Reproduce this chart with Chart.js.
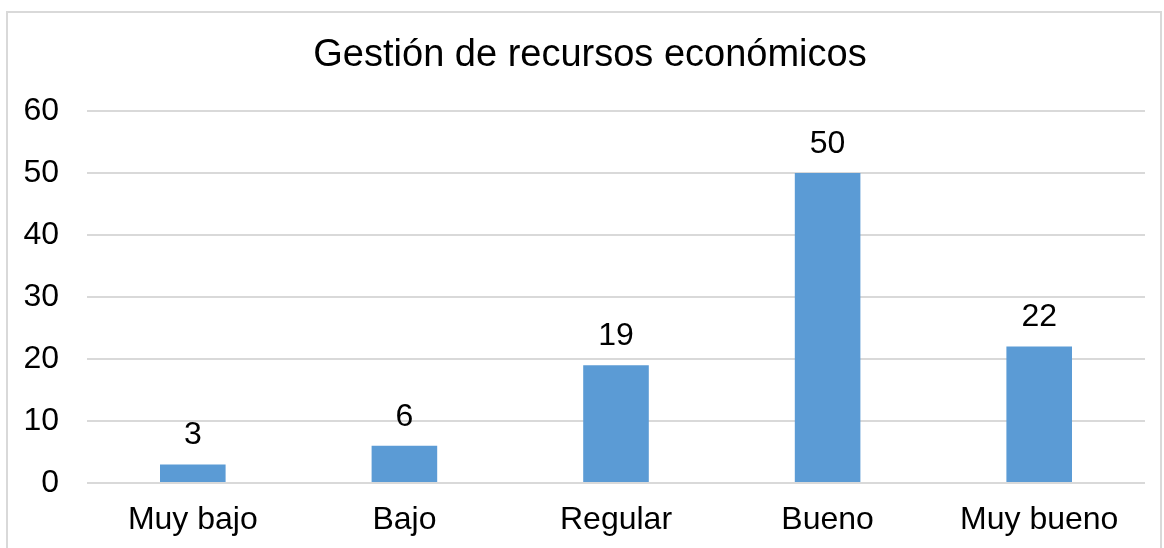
<!DOCTYPE html>
<html>
<head>
<meta charset="utf-8">
<script src="https://cdn.jsdelivr.net/npm/chart.js@4"></script>
<style>
  html, body { margin: 0; padding: 0; background: #fff; overflow: hidden; }
  #frame {
    position: absolute; left: 6px; top: 11px; width: 1156px; height: 560px;
    border: 2px solid #d9d9d9; box-sizing: border-box;
  }
  #wrap { position: absolute; left: 0; top: 0; width: 1164px; height: 548px; }
</style>
</head>
<body>
<div id="frame"></div>
<div id="wrap"><canvas id="chart"></canvas></div>
<script>
  // Datos del gráfico
  const categories = ['Muy bajo', 'Bajo', 'Regular', 'Bueno', 'Muy bueno'];
  const values = [3, 6, 19, 50, 22];
  const yTicks = [0, 10, 20, 30, 40, 50, 60];
  const chartTitle = 'Gestión de recursos económicos';

  const FONT = 'Arial, "Liberation Sans", Helvetica, sans-serif';
  Chart.defaults.font.family = FONT;
  Chart.defaults.color = '#000000';

  // Título centrado sobre el marco del gráfico (no sobre el área de trazado)
  const frameTitle = {
    id: 'frameTitle',
    afterDraw(chart) {
      const ctx = chart.ctx;
      ctx.save();
      ctx.font = '38px ' + FONT;
      ctx.fillStyle = '#000000';
      ctx.textAlign = 'center';
      ctx.textBaseline = 'middle';
      ctx.fillText(chartTitle, 590, 56);
      ctx.restore();
    },
  };

  // Etiquetas de valor encima de cada barra
  const barLabels = {
    id: 'barLabels',
    afterDatasetsDraw(chart) {
      const ctx = chart.ctx;
      const meta = chart.getDatasetMeta(0);
      ctx.save();
      ctx.font = '32px ' + FONT;
      ctx.fillStyle = '#000000';
      ctx.textAlign = 'center';
      ctx.textBaseline = 'middle';
      meta.data.forEach((bar, i) => {
        ctx.fillText(String(values[i]), bar.x, bar.y - 29);
      });
      ctx.restore();
    },
  };

  new Chart(document.getElementById('chart'), {
    type: 'bar',
    data: {
      labels: categories,
      datasets: [{
        data: values,
        backgroundColor: '#5b9bd5',
        borderWidth: 0,
        barPercentage: 0.31,
        categoryPercentage: 1,
      }],
    },
    options: {
      responsive: true,
      maintainAspectRatio: false,
      animation: false,
      layout: { padding: { top: 111, right: 19, left: 0, bottom: 0 } },
      plugins: {
        legend: { display: false },
        tooltip: { enabled: false },
        title: { display: false },
      },
      scales: {
        y: {
          min: 0,
          max: 60,
          afterBuildTicks: (s) => { s.ticks = yTicks.map((v) => ({ value: v })); },
          afterFit: (s) => { s.width = 87; },
          ticks: { font: { size: 32 }, padding: 28, color: '#000000' },
          grid: { color: '#d9d9d9', lineWidth: 2, drawTicks: false },
          border: { display: false },
        },
        x: {
          afterFit: (s) => { s.height = 65; },
          ticks: { font: { size: 32 }, padding: 18, color: '#000000' },
          grid: { display: false, drawTicks: false },
          border: { display: false },
        },
      },
    },
    plugins: [barLabels, frameTitle],
  });
</script>
</body>
</html>
